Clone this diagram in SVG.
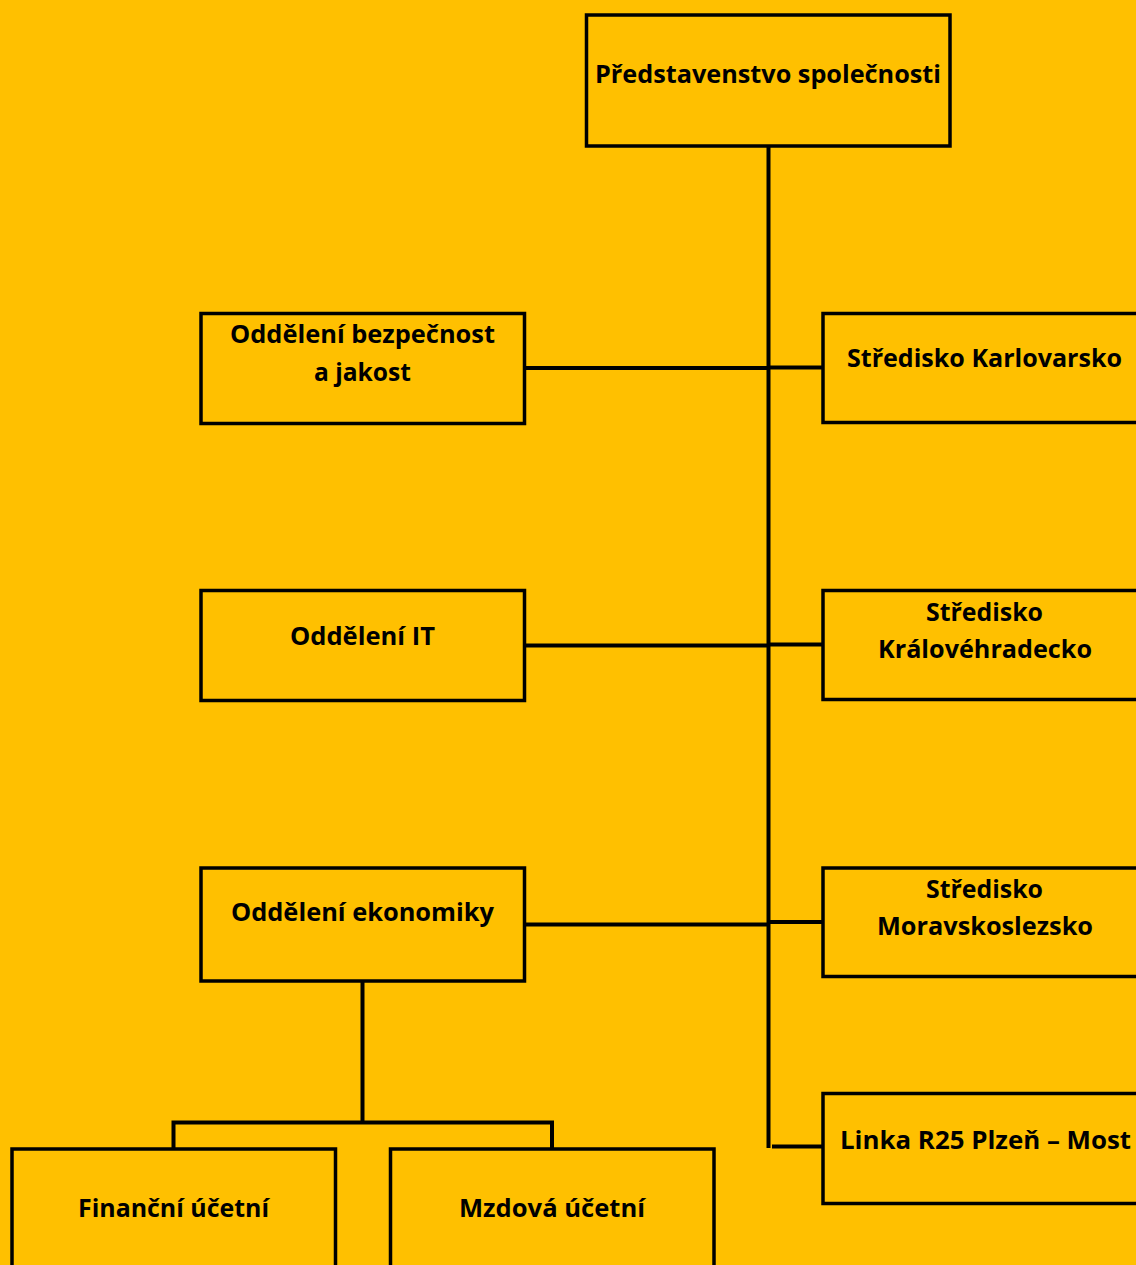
<svg xmlns="http://www.w3.org/2000/svg" width="1136" height="1265" viewBox="0 0 1136 1265">
<style>
.box{fill:#FFC000;stroke:#000;stroke-width:3.5}
.ln{fill:none;stroke:#000;stroke-width:4}
text{font-family:"Open Sans","Liberation Sans",sans-serif;font-weight:700;font-size:25px;fill:#000;text-anchor:middle}
</style>
<rect width="1136" height="1265" fill="#FFC000"/>
<g id="connectors">
<line class="ln" x1="768.5" y1="146" x2="768.5" y2="1148"/>
<line class="ln" x1="525" y1="368" x2="768.5" y2="368"/>
<line class="ln" x1="768.5" y1="367.5" x2="823" y2="367.5"/>
<line class="ln" x1="525" y1="645.5" x2="768.5" y2="645.5"/>
<line class="ln" x1="768.5" y1="644.5" x2="823" y2="644.5"/>
<line class="ln" x1="525" y1="924.5" x2="768.5" y2="924.5"/>
<line class="ln" x1="768.5" y1="922" x2="823" y2="922"/>
<line class="ln" x1="772" y1="1146.5" x2="823" y2="1146.5"/>
<line class="ln" x1="362.5" y1="982" x2="362.5" y2="1122.5"/>
<polyline class="ln" points="173.5,1149 173.5,1122.5 552,1122.5 552,1149"/>
</g>
<g id="n-predstavenstvo"><rect class="box" x="586.5" y="15" width="363.5" height="131"/><text x="768" y="83" textLength="346" lengthAdjust="spacingAndGlyphs">Představenstvo společnosti</text></g>
<g id="n-bezpecnost"><rect class="box" x="201" y="313.5" width="323.5" height="110"/><text x="362.5" y="343" textLength="265" lengthAdjust="spacingAndGlyphs">Oddělení bezpečnost</text><text x="362.5" y="381" textLength="97" lengthAdjust="spacingAndGlyphs">a jakost</text></g>
<g id="n-it"><rect class="box" x="201" y="590.5" width="323.5" height="110"/><text x="362.5" y="645" textLength="145" lengthAdjust="spacingAndGlyphs">Oddělení IT</text></g>
<g id="n-ekonomiky"><rect class="box" x="201" y="868" width="323.5" height="113"/><text x="362.5" y="921" textLength="263" lengthAdjust="spacingAndGlyphs">Oddělení ekonomiky</text></g>
<g id="n-karlovarsko"><rect class="box" x="823" y="313.5" width="325" height="109"/><text x="984.5" y="367" textLength="275" lengthAdjust="spacingAndGlyphs">Středisko Karlovarsko</text></g>
<g id="n-kralovehradecko"><rect class="box" x="823" y="590.5" width="325" height="109"/><text x="984.5" y="621" textLength="117" lengthAdjust="spacingAndGlyphs">Středisko</text><text x="985" y="658" textLength="214" lengthAdjust="spacingAndGlyphs">Královéhradecko</text></g>
<g id="n-moravskoslezsko"><rect class="box" x="823" y="868" width="325" height="108.5"/><text x="984.5" y="898" textLength="117" lengthAdjust="spacingAndGlyphs">Středisko</text><text x="985" y="935" textLength="216" lengthAdjust="spacingAndGlyphs">Moravskoslezsko</text></g>
<g id="n-linka"><rect class="box" x="823" y="1093.5" width="325" height="110"/><text x="985.5" y="1149" textLength="291" lengthAdjust="spacingAndGlyphs">Linka R25 Plzeň – Most</text></g>
<g id="n-financni"><rect class="box" x="12" y="1149" width="323.5" height="130"/><text x="173.5" y="1217" textLength="191" lengthAdjust="spacingAndGlyphs">Finanční účetní</text></g>
<g id="n-mzdova"><rect class="box" x="390.5" y="1149" width="323.5" height="130"/><text x="552" y="1217" textLength="186" lengthAdjust="spacingAndGlyphs">Mzdová účetní</text></g>
</svg>
